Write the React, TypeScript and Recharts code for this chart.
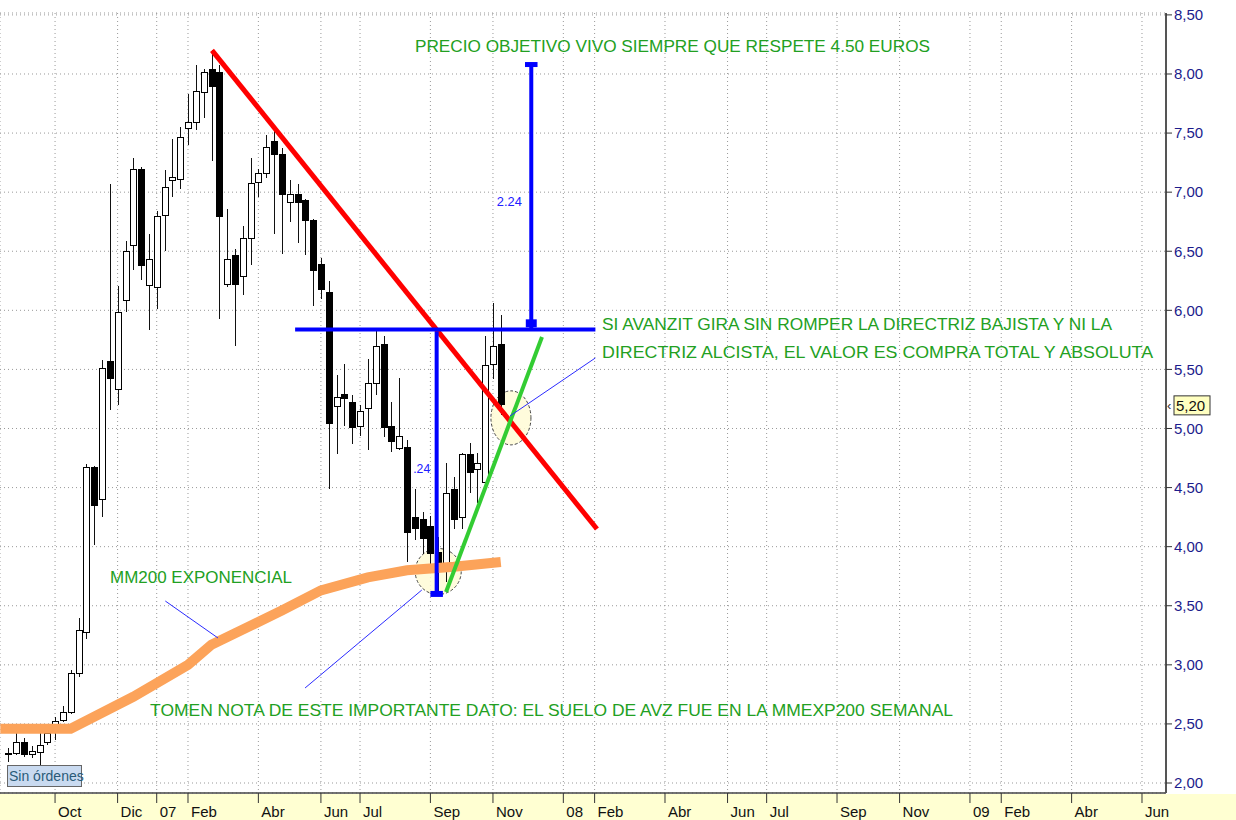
import React from 'react';
import { ComposedChart, Bar, Line, XAxis, YAxis, CartesianGrid, ReferenceLine, ReferenceDot } from 'recharts';

// weekly candles, AVZ, from late summer 2006 to Nov 2007
const opens = [2.25, 2.25, 2.34, 2.24, 2.26, 2.34, 2.44, 2.53, 2.6, 2.93, 3.27, 4.67, 4.4, 5.57, 5.33, 6.08, 6.55, 7.19, 6.21, 6.19, 6.8, 7.1, 7.11, 7.54, 7.59, 7.84, 8.04, 8.01, 6.22, 6.46, 6.29, 6.61, 7.08, 7.16, 7.43, 7.32, 6.91, 6.98, 6.93, 6.76, 6.39, 6.15, 5.19, 5.29, 5.22, 5.02, 5.17, 5.38, 5.71, 5.02, 4.83, 4.84, 4.25, 4.23, 4.17, 3.95, 3.84, 4.48, 4.25, 4.78, 4.65, 4.54, 5.54, 5.71];
const highs = [2.3, 2.42, 2.38, 2.31, 2.42, 2.48, 2.56, 2.65, 2.96, 3.4, 4.7, 4.68, 5.58, 7.07, 6.21, 6.59, 7.29, 7.21, 6.65, 6.84, 7.19, 7.45, 7.55, 7.83, 8.08, 8.04, 8.2, 8.08, 6.86, 6.52, 6.71, 7.29, 7.2, 7.48, 7.54, 7.37, 7.1, 7.07, 6.94, 6.77, 6.44, 6.25, 5.45, 5.55, 5.28, 5.2, 5.59, 5.83, 5.78, 5.22, 5.43, 4.9, 4.49, 4.29, 4.26, 4.08, 4.71, 4.59, 4.79, 4.88, 4.79, 5.78, 6.06, 5.96];
const lows = [2.18, 2.24, 2.22, 2.21, 2.15, 2.32, 2.36, 2.52, 2.58, 2.9, 3.22, 4.01, 4.25, 5.16, 5.2, 5.99, 6.34, 6.26, 5.83, 6.01, 6.5, 6.96, 7.03, 7.4, 7.53, 7.63, 7.26, 5.93, 6.2, 5.7, 6.13, 6.38, 6.96, 7.12, 6.65, 6.48, 6.75, 6.57, 6.47, 6.04, 6.1, 4.49, 4.78, 5.02, 4.87, 4.94, 4.82, 5.28, 4.93, 4.8, 4.82, 3.87, 4.06, 3.94, 3.8, 3.62, 3.7, 4.15, 4.15, 4.45, 4.37, 4.51, 5.42, 5.11];
const closes = [2.24, 2.34, 2.24, 2.27, 2.32, 2.42, 2.52, 2.6, 2.93, 3.29, 4.67, 4.35, 5.51, 5.42, 5.98, 6.5, 7.19, 6.38, 6.43, 6.79, 7.04, 7.12, 7.46, 7.59, 7.85, 8.01, 7.89, 6.79, 6.43, 6.22, 6.61, 7.07, 7.16, 7.38, 7.32, 6.98, 6.98, 6.91, 6.76, 6.34, 6.18, 5.04, 5.26, 5.25, 5.01, 5.14, 5.38, 5.69, 5.01, 4.89, 4.93, 4.12, 4.15, 4.07, 3.94, 3.83, 4.45, 4.23, 4.78, 4.63, 4.7, 5.53, 5.69, 5.2];

// MM200 exponencial, read at a few weeks
const emaWeeks = [-1, 0, 8, 11, 16, 23, 26, 31, 35, 40, 46, 51, 57, 63];
const emaValues = [2.46, 2.46, 2.46, 2.56, 2.73, 3.0, 3.17, 3.33, 3.46, 3.63, 3.74, 3.8, 3.83, 3.87];

const tickWeeks = [6, 14, 19, 23, 32, 40, 45, 54, 62, 71, 75, 84, 92, 97, 106, 114, 123, 127, 136, 145];
const tickLabels = ['Oct', 'Dic', '07', 'Feb', 'Abr', 'Jun', 'Jul', 'Sep', 'Nov', '08', 'Feb', 'Abr', 'Jun', 'Jul', 'Sep', 'Nov', '09', 'Feb', 'Abr', 'Jun'];
const priceTicks = [2, 2.5, 3, 3.5, 4, 4.5, 5, 5.5, 6, 6.5, 7, 7.5, 8, 8.5];
const lastPrice = 5.2;

const candles = opens.map((o, i) => ({ week: i, open: o, high: highs[i], low: lows[i], close: closes[i] }));
const ema = emaWeeks.map((w, i) => ({ week: w, ema: emaValues[i] }));

const GREEN = '#22a022';
const FONT = 'Liberation Sans, Arial, sans-serif';
const fmt = (v: number) => v.toFixed(2).replace('.', ',');

const Candle = (props: any) => {
  const { x, y, width, height, payload } = props;
  const top = Math.min(y, y + height);
  const bot = Math.max(y, y + height);
  const span = payload.high - payload.low || 1;
  const py = (v: number) => top + ((payload.high - v) / span) * (bot - top);
  const rx = Math.round(x);
  const cx = rx + 3;
  const up = payload.close >= payload.open;
  const bt = py(Math.max(payload.open, payload.close));
  const bb = py(Math.min(payload.open, payload.close));
  return (
    <g shapeRendering="crispEdges">
      <line x1={cx} x2={cx} y1={top} y2={bot} stroke="#111" strokeWidth={1} />
      <rect x={rx} y={bt} width={6} height={Math.max(bb - bt, 1)} fill={up ? '#fff' : '#000'} stroke="#000" strokeWidth={1} />
    </g>
  );
};

const XTick = (props: any) => {
  const { x, y, payload } = props;
  const i = tickWeeks.indexOf(payload.value);
  return (
    <text x={x + 3} y={y + 14} fontSize={15} fill="#111" fontFamily={FONT}>
      {tickLabels[i]}
    </text>
  );
};

const PriceTag = (props: any) => {
  const { cx, cy } = props;
  return (
    <g fontFamily={FONT}>
      <text x={cx + 1} y={cy + 5} fontSize={13} fill="#333">‹</text>
      <rect x={cx + 8} y={cy - 9} width={36} height={19} fill="#ffffc0" stroke="#333" />
      <text x={cx + 10} y={cy + 6} fontSize={15} fill="#111">{fmt(lastPrice)}</text>
    </g>
  );
};

const Note = ({ text, width, size, color }: any) => (props: any) => (
  <text x={props.cx} y={props.cy} fontSize={size} fill={color} textLength={width} lengthAdjust="spacingAndGlyphs" fontFamily={FONT}>
    {text}
  </text>
);

const Ellipse = ({ rx, ry }: any) => (props: any) => (
  <ellipse cx={props.cx} cy={props.cy} rx={rx} ry={ry} fill="#fffbd6" fillOpacity={0.85} stroke="#444" strokeDasharray="3 2" strokeWidth={1} />
);

export default function App() {
  return (
    <div style={{ position: 'absolute', left: 0, top: 0, width: 1236, height: 820, background: '#fff', overflow: 'hidden' }}>
      <div style={{ position: 'absolute', left: 0, top: 794, width: 1236, height: 26, background: '#ffffd2' }} />
      <div style={{ position: 'absolute', left: 0, top: 0 }}>
        <ComposedChart width={1236} height={820} data={candles} margin={{ top: 13, right: 0, left: 0, bottom: 0 }}>
          <CartesianGrid stroke="#999" strokeDasharray="1 3" />
          <XAxis
            dataKey="week"
            type="number"
            domain={[-1.04, 148.07]}
            allowDataOverflow
            ticks={tickWeeks}
            interval={0}
            height={27}
            tickSize={10}
            tickMargin={0}
            tick={<XTick />}
            axisLine={{ stroke: '#444', strokeWidth: 1.5 }}
            tickLine={{ stroke: '#333' }}
          />
          <YAxis
            orientation="right"
            width={70}
            type="number"
            domain={[1.9154, 8.5161]}
            allowDataOverflow
            ticks={priceTicks}
            interval={0}
            tickFormatter={fmt}
            tickSize={6}
            tickMargin={2}
            tick={{ fontSize: 15, fill: '#1c1c8c', fontFamily: FONT }}
            axisLine={{ stroke: '#555', strokeWidth: 2 }}
            tickLine={{ stroke: '#333' }}
          />
          <ReferenceDot x={64.3} y={5.09} r={20} ifOverflow="visible" zIndex={250} shape={Ellipse({ rx: 20, ry: 27 })} />
          <ReferenceDot x={55.0} y={3.79} r={23} ifOverflow="visible" zIndex={250} shape={Ellipse({ rx: 23, ry: 23 })} />
          <Bar dataKey={(d: any) => [d.low, d.high]} barSize={6} shape={<Candle />} isAnimationActive={false} />
          <Line data={ema} dataKey="ema" type="linear" stroke="#fca35a" strokeWidth={10} dot={false} activeDot={false} isAnimationActive={false} />

          {/* directriz bajista */}
          <ReferenceLine segment={[{ x: 26.07, y: 8.2 }, { x: 75.3, y: 4.149 }]} stroke="#ff0000" strokeWidth={5} ifOverflow="visible" />
          {/* resistencia y proyecciones */}
          <ReferenceLine segment={[{ x: 36.7, y: 5.838 }, { x: 75.1, y: 5.838 }]} stroke="#0000ff" strokeWidth={4} ifOverflow="visible" />
          <ReferenceLine segment={[{ x: 54.8, y: 5.82 }, { x: 54.8, y: 3.6 }]} stroke="#0000ff" strokeWidth={4} ifOverflow="visible" />
          <ReferenceLine segment={[{ x: 54.0, y: 3.6 }, { x: 55.6, y: 3.6 }]} stroke="#0000ff" strokeWidth={6} ifOverflow="visible" />
          <ReferenceLine segment={[{ x: 66.9, y: 5.84 }, { x: 66.9, y: 8.08 }]} stroke="#0000ff" strokeWidth={4} ifOverflow="visible" />
          <ReferenceLine segment={[{ x: 66.1, y: 8.08 }, { x: 67.7, y: 8.08 }]} stroke="#0000ff" strokeWidth={5} ifOverflow="visible" />
          <ReferenceLine segment={[{ x: 66.2, y: 5.89 }, { x: 67.6, y: 5.89 }]} stroke="#0000ff" strokeWidth={8} ifOverflow="visible" />
          {/* directriz alcista */}
          <ReferenceLine segment={[{ x: 56.0, y: 3.616 }, { x: 68.27, y: 5.774 }]} stroke="#33cc33" strokeWidth={4} ifOverflow="visible" />
          {/* flechas de notas */}
          <ReferenceLine segment={[{ x: 20.1, y: 3.54 }, { x: 26.84, y: 3.227 }]} stroke="#2b2bff" strokeWidth={1} ifOverflow="visible" />
          <ReferenceLine segment={[{ x: 37.97, y: 2.804 }, { x: 52.9, y: 3.633 }]} stroke="#2b2bff" strokeWidth={1} ifOverflow="visible" />
          <ReferenceLine segment={[{ x: 64.18, y: 5.106 }, { x: 75.1, y: 5.597 }]} stroke="#2b2bff" strokeWidth={1} ifOverflow="visible" />

          <ReferenceDot x={52.03} y={8.186} r={0} ifOverflow="visible" shape={Note({ text: 'PRECIO OBJETIVO VIVO SIEMPRE QUE RESPETE 4.50 EUROS', width: 515, size: 17, color: GREEN })} />
          <ReferenceDot x={75.95} y={5.833} r={0} ifOverflow="visible" shape={Note({ text: 'SI AVANZIT GIRA SIN ROMPER LA DIRECTRIZ BAJISTA Y NI LA', width: 510, size: 17, color: GREEN })} />
          <ReferenceDot x={75.95} y={5.597} r={0} ifOverflow="visible" shape={Note({ text: 'DIRECTRIZ ALCISTA, EL VALOR ES COMPRA TOTAL Y ABSOLUTA', width: 551, size: 17, color: GREEN })} />
          <ReferenceDot x={13.03} y={3.692} r={0} ifOverflow="visible" shape={Note({ text: 'MM200 EXPONENCIAL', width: 182, size: 17, color: GREEN })} />
          <ReferenceDot x={18.15} y={2.563} r={0} ifOverflow="visible" shape={Note({ text: 'TOMEN NOTA DE ESTE IMPORTANTE DATO: EL SUELO DE AVZ FUE EN LA MMEXP200 SEMANAL', width: 803, size: 17, color: GREEN })} />
          <ReferenceDot x={62.5} y={6.883} r={0} ifOverflow="visible" shape={Note({ text: '2.24', width: 25, size: 13, color: '#2020ff' })} />
          <ReferenceDot x={51.8} y={4.623} r={0} ifOverflow="visible" shape={Note({ text: '.24', width: 17, size: 13, color: '#2020ff' })} />
          <ReferenceDot x={148.07} y={lastPrice} r={0} ifOverflow="visible" shape={<PriceTag />} />
        </ComposedChart>
      </div>
      <div style={{ position: 'absolute', left: 7, top: 765, width: 72, height: 20, background: '#c9daf0', border: '1px solid #666', fontFamily: FONT, fontSize: 14, color: '#2a5a78', lineHeight: '20px', paddingLeft: 1, boxSizing: 'content-box', whiteSpace: 'nowrap' }}>
        Sin órdenes
      </div>
    </div>
  );
}
